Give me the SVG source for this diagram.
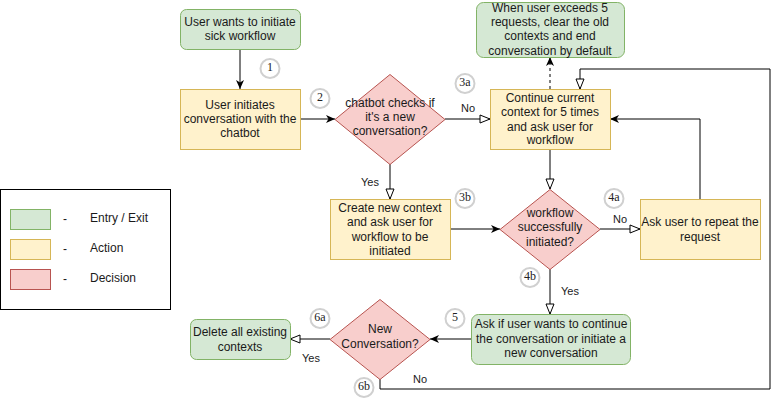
<svg xmlns="http://www.w3.org/2000/svg" width="781" height="401" viewBox="0 0 781 401">
<defs>
<style>
text{font-family:"Liberation Sans",Arial,sans-serif;font-size:12px;fill:#1a1a1a;text-anchor:middle;dominant-baseline:central}
.g{fill:#d5e8d4;stroke:#82b366;stroke-width:1}
.y{fill:#fff2cc;stroke:#d6b656;stroke-width:1}
.r{fill:#f8cecc;stroke:#b85450;stroke-width:1}
.e{fill:none;stroke:#000;stroke-width:1}
.lbl{font-size:11px}
.num{fill:#fff;stroke:#d0d0d0;stroke-width:2}
.nt{font-family:"Liberation Serif","Times New Roman",serif;font-size:12px;fill:#222}
.lt{text-anchor:start}
</style>
<marker id="fa" markerUnits="userSpaceOnUse" markerWidth="10" markerHeight="10" viewBox="0 0 10 8" refX="9" refY="4" orient="auto">
<path d="M0,0 L9,4 L0,8 L2.5,4 Z" fill="#000"/>
</marker>
<marker id="oa" markerUnits="userSpaceOnUse" markerWidth="12" markerHeight="12" viewBox="-1 -1 12 10" refX="10" refY="4" orient="auto">
<path d="M0,0 L10,4 L0,8 Z" fill="#fff" stroke="#000" stroke-width="1"/>
</marker>
</defs>
<rect width="781" height="401" fill="#fff"/>

<g id="legend">
<rect x="0.5" y="189.5" width="170" height="120" fill="#fff" stroke="#000"/>
<rect class="g" x="10.5" y="209.5" width="40" height="20"/>
<rect class="y" x="10.5" y="239.5" width="40" height="20"/>
<rect class="r" x="10.5" y="269.5" width="40" height="20"/>
<text x="65" y="219">-</text><text class="lt" x="90" y="218">Entry / Exit</text>
<text x="65" y="249">-</text><text class="lt" x="90" y="248">Action</text>
<text x="65" y="279">-</text><text class="lt" x="90" y="278">Decision</text>
</g>

<g id="connectors">
<path class="e" d="M240,49 V89" marker-end="url(#fa)"/>
<path class="e" d="M300,119 H335" marker-end="url(#fa)"/>
<path class="e" d="M445,119 H490" marker-end="url(#oa)"/>
<path class="e" d="M550,89 V57" stroke-dasharray="3,3" marker-end="url(#fa)"/>
<path class="e" d="M390,164 V199" marker-end="url(#oa)"/>
<path class="e" d="M450,229 H500" marker-end="url(#fa)"/>
<path class="e" d="M550,149 V189" marker-end="url(#oa)"/>
<path class="e" d="M600,229 H640" marker-end="url(#oa)"/>
<path class="e" d="M700,199 V119 H610" marker-end="url(#fa)"/>
<path class="e" d="M550,269 V314" marker-end="url(#oa)"/>
<path class="e" d="M471,339 H430" marker-end="url(#fa)"/>
<path class="e" d="M330,339 H290" marker-end="url(#oa)"/>
<path class="e" d="M380,379 V389 H770 V69 H580 V89" marker-end="url(#oa)"/>
<text class="lbl" x="468" y="108">No</text>
<text class="lbl" x="370" y="182">Yes</text>
<text class="lbl" x="620" y="219">No</text>
<text class="lbl" x="570" y="291">Yes</text>
<text class="lbl" x="311" y="358">Yes</text>
<text class="lbl" x="420" y="379">No</text>
</g>

<g id="start">
<rect class="g" x="180.5" y="9.5" width="120" height="40" rx="6"/>
<text x="240" y="22">User wants to initiate</text>
<text x="240" y="36">sick workflow</text>
</g>
<g id="initiate">
<rect class="y" x="180.5" y="89.5" width="120" height="60"/>
<text x="240" y="105">User initiates</text>
<text x="240" y="119">conversation with the</text>
<text x="240" y="133">chatbot</text>
</g>
<g id="check-new">
<path class="r" d="M390,74.5 L445,119.5 L390,164.5 L335,119.5 Z"/>
<text x="390" y="103">chatbot checks if</text>
<text x="390" y="117">it's a new</text>
<text x="390" y="131">conversation?</text>
</g>
<g id="continue">
<rect class="y" x="490.5" y="89.5" width="120" height="60"/>
<text x="550" y="98">Continue current</text>
<text x="550" y="112">context for 5 times</text>
<text x="550" y="126.5">and ask user for</text>
<text x="550" y="140">workflow</text>
</g>
<g id="exceed">
<rect class="g" x="476.5" y="2.5" width="148" height="55" rx="7"/>
<text x="550" y="8">When user exceeds 5</text>
<text x="550" y="22">requests, clear the old</text>
<text x="550" y="36">contexts and end</text>
<text x="550" y="50.5">conversation by default</text>
</g>
<g id="create">
<rect class="y" x="330.5" y="199.5" width="120" height="60"/>
<text x="390" y="208">Create new context</text>
<text x="390" y="222">and ask user for</text>
<text x="390" y="236.5">workflow to be</text>
<text x="390" y="250.5">initiated</text>
</g>
<g id="success">
<path class="r" d="M550,189.5 L600,229.5 L550,269.5 L500,229.5 Z"/>
<text x="550" y="213">workflow</text>
<text x="550" y="227">successfully</text>
<text x="550" y="241.5">initiated?</text>
</g>
<g id="repeat">
<rect class="y" x="640.5" y="199.5" width="120" height="60"/>
<text x="700" y="222">Ask user to repeat the</text>
<text x="700" y="237">request</text>
</g>
<g id="ask-continue">
<rect class="g" x="471.5" y="314.5" width="159" height="50" rx="7"/>
<text x="551" y="324">Ask if user wants to continue</text>
<text x="551" y="339">the conversation or initiate a</text>
<text x="551" y="353">new conversation</text>
</g>
<g id="new-conv">
<path class="r" d="M380,299.5 L430,339.5 L380,379.5 L330,339.5 Z"/>
<text x="380" y="329">New</text>
<text x="380" y="344">Conversation?</text>
</g>
<g id="delete">
<rect class="g" x="190.5" y="319.5" width="100" height="40" rx="6"/>
<text x="240" y="332">Delete all existing</text>
<text x="240" y="347">contexts</text>
</g>

<g id="step-1"><circle class="num" cx="270" cy="68.5" r="9.5"/><text class="nt" x="270" y="66.5">1</text></g>
<g id="step-2"><circle class="num" cx="320" cy="98.5" r="9.5"/><text class="nt" x="320" y="96.5">2</text></g>
<g id="step-3a"><circle class="num" cx="465" cy="83.5" r="9.5"/><text class="nt" x="465" y="81.5">3a</text></g>
<g id="step-3b"><circle class="num" cx="465" cy="198.5" r="9.5"/><text class="nt" x="465" y="196.5">3b</text></g>
<g id="step-4a"><circle class="num" cx="614" cy="198.5" r="9.5"/><text class="nt" x="614" y="196.5">4a</text></g>
<g id="step-4b"><circle class="num" cx="530" cy="277.5" r="9.5"/><text class="nt" x="530" y="275.5">4b</text></g>
<g id="step-5"><circle class="num" cx="455" cy="318.5" r="9.5"/><text class="nt" x="455" y="316.5">5</text></g>
<g id="step-6a"><circle class="num" cx="320" cy="318.5" r="9.5"/><text class="nt" x="320" y="316.5">6a</text></g>
<g id="step-6b"><circle class="num" cx="364" cy="387.5" r="9.5"/><text class="nt" x="364" y="385.5">6b</text></g>
</svg>
